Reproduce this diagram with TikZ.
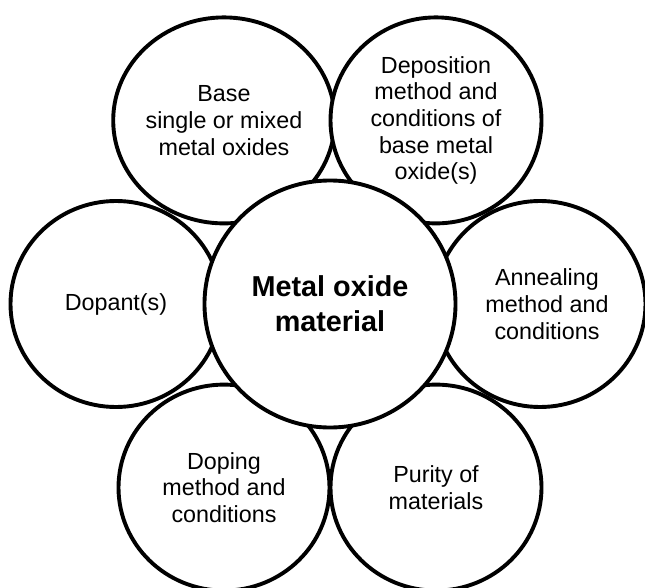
\documentclass[tikz,border=0pt]{standalone}
\usepackage{fontspec}
\setmainfont{Liberation Sans}
\usetikzlibrary{calc,shapes.geometric}

\begin{document}
\begin{tikzpicture}[x=1pt, y=1pt,
    ring/.style={draw, ellipse, line width=3.9pt, fill=white, inner sep=0pt,
      minimum width=211pt, minimum height=206pt, align=center,
      font=\fontsize{23.3}{26.7}\selectfont},
    hub/.style={ring, minimum width=251pt, minimum height=247pt,
      font=\fontsize{28.8}{34.7}\selectfont\bfseries}]
  \useasboundingbox (0,0) rectangle (645,-588);
  \coordinate (mid) at (330,-304);
  % outer ring of six factors
  \node[ring] (base) at ($(mid)+(120:212)$) {Base\\single or mixed\\metal oxides};
  \node[ring] (depo) at ($(mid)+(60:212)$) {Deposition\\method and\\conditions of\\base metal\\oxide(s)};
  \node[ring] (anneal) at ($(mid)+(0:210)$) {\hspace*{14pt}Annealing\\\hspace*{14pt}method and\\\hspace*{14pt}conditions};
  \node[ring] (purity) at ($(mid)+(-60:212)$) {Purity of\\materials};
  \node[ring] (doping) at ($(mid)+(-120:212)$) {Doping\\method and\\conditions};
  \node[ring] (dopant) at ($(mid)+(180:214)$) {Dopant(s)};
  % centre on top
  \node[hub] (metal) at (mid) {Metal oxide\\material};
\end{tikzpicture}
\end{document}
